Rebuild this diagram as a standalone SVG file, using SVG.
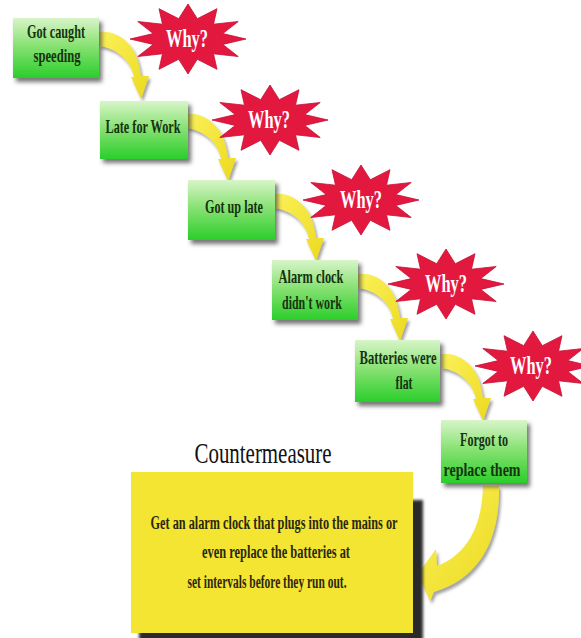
<svg xmlns="http://www.w3.org/2000/svg" width="581" height="638" viewBox="0 0 581 638">
  <style>
    .box { fill: url(#greenFill); filter: url(#boxShadow); }
    .boxText { font-family: "Liberation Serif", "Times New Roman", serif; font-size: 19px; font-weight: bold; fill: #15330f; text-anchor: middle; }
    .star { fill: #e3183f; stroke: #c40f33; stroke-width: 0.8; }
    .why { font-family: "Liberation Serif", "Times New Roman", serif; font-size: 26px; font-weight: bold; fill: #ffffff; text-anchor: middle; }
    .arrow { fill: url(#yellowFill); filter: url(#arrowShadow); }
    .title { font-family: "Liberation Serif", "Times New Roman", serif; font-size: 30px; fill: #111111; text-anchor: middle; }
    .body { font-family: "Liberation Serif", "Times New Roman", serif; font-size: 18px; font-weight: bold; fill: #2a2810; text-anchor: middle; }
  </style>
  <defs>
    <linearGradient id="greenFill" x1="0" y1="0" x2="0" y2="1">
      <stop offset="0" stop-color="#d8f5c9"/>
      <stop offset="0.45" stop-color="#8ae275"/>
      <stop offset="1" stop-color="#2bce2b"/>
    </linearGradient>
    <linearGradient id="yellowFill" x1="0" y1="0" x2="1" y2="1">
      <stop offset="0" stop-color="#fbf15a"/>
      <stop offset="1" stop-color="#ecd91e"/>
    </linearGradient>
    <filter id="boxShadow" x="-20%" y="-20%" width="150%" height="150%">
      <feDropShadow dx="3" dy="4" stdDeviation="2" flood-color="#3a3a3a" flood-opacity="0.7"/>
    </filter>
    <filter id="arrowShadow" x="-30%" y="-30%" width="170%" height="170%">
      <feDropShadow dx="2" dy="3" stdDeviation="1.5" flood-color="#555555" flood-opacity="0.55"/>
    </filter>
    <filter id="softBlur" x="-10%" y="-10%" width="120%" height="120%">
      <feGaussianBlur stdDeviation="1.5"/>
    </filter>
    <!-- twelve-point burst, centred on the origin -->
    <path id="burst" d="M0,-35 L9.3,-20.3 L29,-30.3 L25.5,-14.8 L50.2,-17.5 L34.8,-5.4 L58,0 L34.8,5.4 L50.2,17.5 L25.5,14.8 L29,30.3 L9.3,20.3 L0,35 L-9.3,20.3 L-29,30.3 L-25.5,14.8 L-50.2,17.5 L-34.8,5.4 L-58,0 L-34.8,-5.4 L-50.2,-17.5 L-25.5,-14.8 L-29,-30.3 L-9.3,-20.3 Z"/>
    <!-- curved step arrow, relative to the top-left corner of the source box -->
    <path id="stepArrow" d="M86,14 C104,12 123,25 127,52 L128,58 L136,58 L128,81 L118,59 L121,59 C118,43 104,30 86,28 Z"/>
  </defs>

  <rect width="581" height="638" fill="#ffffff"/>

  <!-- connectors -->
  <g id="connectors">
    <use href="#stepArrow" class="arrow" transform="translate(13,18)"/>
    <use href="#stepArrow" class="arrow" transform="translate(100,100)"/>
    <use href="#stepArrow" class="arrow" transform="translate(188,180)"/>
    <use href="#stepArrow" class="arrow" transform="translate(272,260)"/>
    <use href="#stepArrow" class="arrow" transform="translate(355,340)"/>
    <path class="arrow" d="M483,486 L499,486 C500,540 480,578 434,592 L430,601 L418,574 L436,549 L437,566 C466,555 482,528 483,486 Z"/>
  </g>

  <!-- why bursts -->
  <g id="why1"><use href="#burst" class="star" transform="translate(188,39)"/><text class="why" x="187" y="47" textLength="42" lengthAdjust="spacingAndGlyphs">Why?</text></g>
  <g id="why2"><use href="#burst" class="star" transform="translate(270,120)"/><text class="why" x="269" y="128" textLength="42" lengthAdjust="spacingAndGlyphs">Why?</text></g>
  <g id="why3"><use href="#burst" class="star" transform="translate(361,200)"/><text class="why" x="361" y="208" textLength="42" lengthAdjust="spacingAndGlyphs">Why?</text></g>
  <g id="why4"><use href="#burst" class="star" transform="translate(446,284)"/><text class="why" x="446" y="292" textLength="42" lengthAdjust="spacingAndGlyphs">Why?</text></g>
  <g id="why5"><use href="#burst" class="star" transform="translate(533,366)"/><text class="why" x="531" y="374" textLength="42" lengthAdjust="spacingAndGlyphs">Why?</text></g>

  <!-- cause chain -->
  <g id="step1">
    <rect class="box" x="13" y="18" width="86" height="60"/>
    <text class="boxText" x="56" y="38" textLength="58" lengthAdjust="spacingAndGlyphs">Got caught</text>
    <text class="boxText" x="57" y="62" textLength="47" lengthAdjust="spacingAndGlyphs">speeding</text>
  </g>
  <g id="step2">
    <rect class="box" x="100" y="101" width="88" height="58"/>
    <text class="boxText" x="143" y="133" textLength="75" lengthAdjust="spacingAndGlyphs">Late for Work</text>
  </g>
  <g id="step3">
    <rect class="box" x="188" y="180" width="87" height="60"/>
    <text class="boxText" x="234" y="213" textLength="58" lengthAdjust="spacingAndGlyphs">Got up late</text>
  </g>
  <g id="step4">
    <rect class="box" x="272" y="260" width="86" height="60"/>
    <text class="boxText" x="311" y="283" textLength="65" lengthAdjust="spacingAndGlyphs">Alarm clock</text>
    <text class="boxText" x="312" y="309" textLength="60" lengthAdjust="spacingAndGlyphs">didn't work</text>
  </g>
  <g id="step5">
    <rect class="box" x="355" y="340" width="85" height="62"/>
    <text class="boxText" x="398" y="364" textLength="77" lengthAdjust="spacingAndGlyphs">Batteries were</text>
    <text class="boxText" x="404" y="389" textLength="17" lengthAdjust="spacingAndGlyphs">flat</text>
  </g>
  <g id="step6">
    <rect class="box" x="441" y="420" width="86" height="63"/>
    <text class="boxText" x="484" y="446" textLength="48" lengthAdjust="spacingAndGlyphs">Forgot to</text>
    <text class="boxText" x="482" y="476" textLength="77" lengthAdjust="spacingAndGlyphs">replace them</text>
  </g>

  <!-- countermeasure -->
  <g id="countermeasure">
    <text class="title" x="263" y="463" textLength="137" lengthAdjust="spacingAndGlyphs">Countermeasure</text>
    <rect x="139" y="500" width="284" height="142" fill="#2a2a2a" filter="url(#softBlur)"/>
    <rect x="131" y="472" width="282" height="161" fill="#f4e533"/>
    <text class="body" x="274" y="529" textLength="247" lengthAdjust="spacingAndGlyphs">Get an alarm clock that plugs into the mains or</text>
    <text class="body" x="276" y="558" textLength="148" lengthAdjust="spacingAndGlyphs">even replace the batteries at</text>
    <text class="body" x="267" y="588" textLength="159" lengthAdjust="spacingAndGlyphs">set intervals before they run out.</text>
  </g>
</svg>
